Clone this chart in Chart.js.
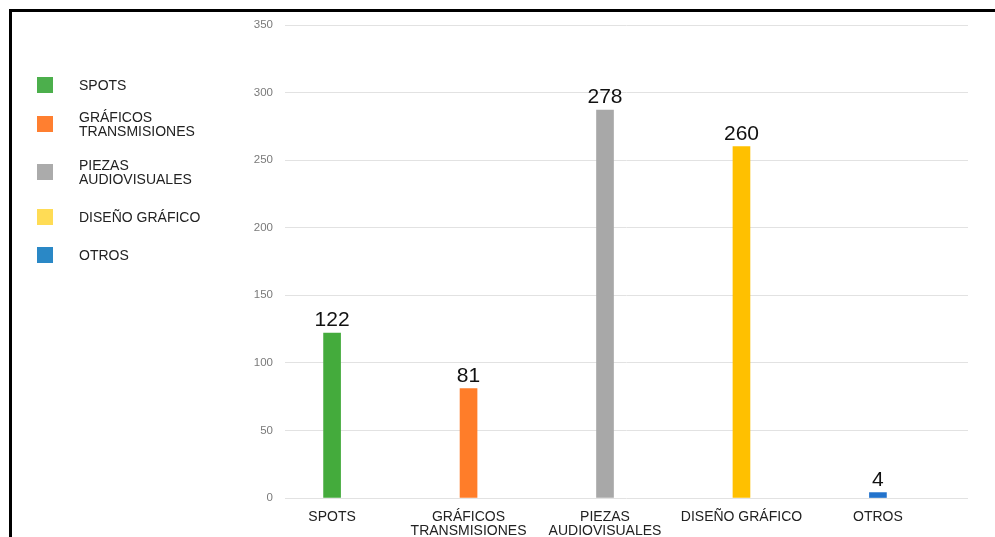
<!DOCTYPE html>
<html>
<head>
<meta charset="utf-8">
<script src="https://cdn.jsdelivr.net/npm/chart.js@4"></script>
<style>
    body { margin: 0; background: #fff; }
    #wrap { position: relative; width: 995px; height: 537px; overflow: hidden; }
    #frame { position: absolute; left: 9px; top: 9px; right: 0; bottom: 0;
             border-top: 3px solid #000; border-left: 3px solid #000; pointer-events: none; }
    #chart { position: absolute; left: 0; top: 0; }
    #legend { position: absolute; left: 37px; top: 0; font-family: "Liberation Sans", Arial, sans-serif;
              font-size: 14px; color: #222; line-height: 14px; }
    .item { position: absolute; left: 0; display: flex; align-items: center; white-space: nowrap; }
    .swatch { width: 16px; height: 16px; margin-right: 26px; flex: none; }
</style>
</head>
<body>
<div id="wrap">
    <canvas id="chart" width="995" height="537"></canvas>
    <div id="legend"></div>
    <div id="frame"></div>
</div>
<script>
// ============================================
// Chart data
// ============================================
const categories = [['SPOTS'], ['GRÁFICOS', 'TRANSMISIONES'], ['PIEZAS', 'AUDIOVISUALES'], ['DISEÑO GRÁFICO'], ['OTROS']];
const values = [122, 81, 287, 260, 4];
const valueLabels = ['122', '81', '278', '260', '4'];
const barColors = ['#44ab3c', '#ff7d29', '#a8a8a8', '#ffc000', '#2373cc'];
const legendColors = ['#4caf4c', '#ff7f30', '#ababab', '#ffdc55', '#2a88c6'];
const legendTops = [85, 124, 172, 217, 255];
const yTicks = [0, 50, 100, 150, 200, 250, 300, 350];

document.addEventListener('DOMContentLoaded', () => {
    buildLegend();
    initChart();
});

function buildLegend() {
    const legend = document.getElementById('legend');
    legend.innerHTML = categories.map((lines, i) => `
        <div class="item" style="top:${legendTops[i] - 8}px; height:16px;">
            <div class="swatch" style="background:${legendColors[i]}"></div>
            <div>${lines.join('<br>')}</div>
        </div>
    `).join('');
}

const valueLabelPlugin = {
    id: 'valueLabels',
    afterDatasetsDraw(chart) {
        const ctx = chart.ctx;
        const meta = chart.getDatasetMeta(0);
        ctx.save();
        ctx.font = '21px "Liberation Sans", Arial, sans-serif';
        ctx.fillStyle = '#111';
        ctx.textAlign = 'center';
        ctx.textBaseline = 'bottom';
        meta.data.forEach((bar, i) => {
            ctx.fillText(valueLabels[i], bar.x, bar.y - 2);
        });
        ctx.restore();
    }
};

function initChart() {
    const ctx = document.getElementById('chart').getContext('2d');
    new Chart(ctx, {
        type: 'bar',
        data: {
            datasets: [{
                data: values.map((v, i) => ({ x: i, y: v })),
                backgroundColor: barColors,
                barThickness: 17
            }]
        },
        options: {
            responsive: false,
            animation: false,
            layout: { padding: { top: 25, right: 27, left: 0, bottom: 0 } },
            plugins: { legend: { display: false }, tooltip: { enabled: false } },
            scales: {
                x: {
                    type: 'linear',
                    offset: false,
                    min: -0.345,
                    max: 4.66,
                    grid: { display: false },
                    border: { display: false },
                    afterBuildTicks: scale => { scale.ticks = categories.map((c, i) => ({ value: i })); },
                    afterFit: scale => { scale.height = 39; },
                    ticks: {
                        autoSkip: false,
                        maxRotation: 0,
                        padding: 4,
                        color: '#222',
                        font: { family: '"Liberation Sans", Arial, sans-serif', size: 14, lineHeight: 1.0 },
                        callback: value => categories[value]
                    }
                },
                y: {
                    min: 0,
                    max: 350,
                    afterBuildTicks: scale => { scale.ticks = yTicks.map(v => ({ value: v })); },
                    afterFit: scale => { scale.width = 285; },
                    grid: { color: '#e2e2e2', drawTicks: false },
                    border: { display: false },
                    ticks: {
                        padding: 12,
                        color: '#7a7a7a',
                        font: { family: '"Liberation Sans", Arial, sans-serif', size: 11.5 }
                    }
                }
            }
        },
        plugins: [valueLabelPlugin]
    });
}
</script>
</body>
</html>
